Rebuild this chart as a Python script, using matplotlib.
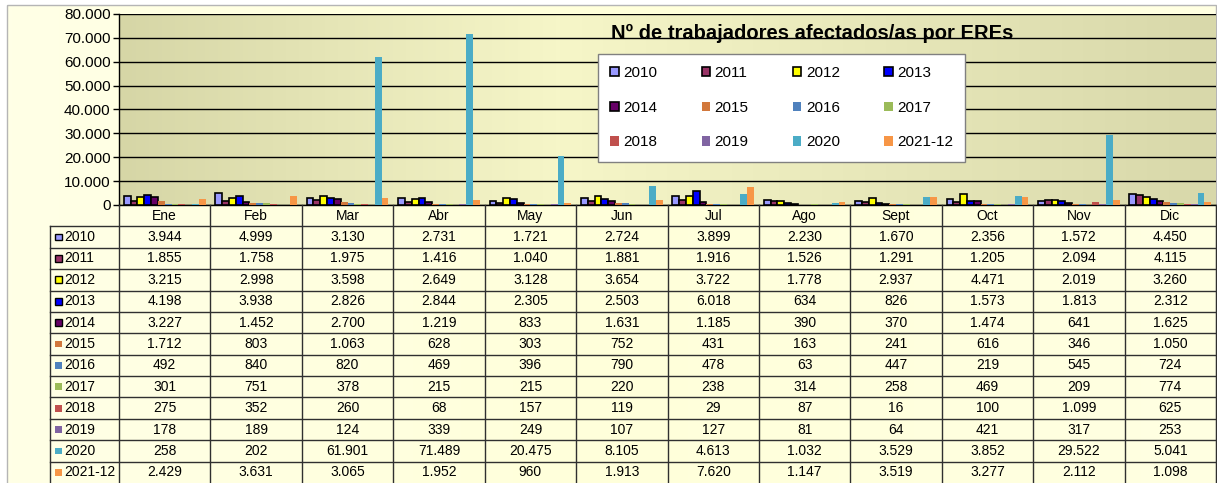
import matplotlib.pyplot as plt
import numpy as np
from matplotlib.patches import Rectangle, Patch
from matplotlib.colors import LinearSegmentedColormap
from matplotlib.ticker import FuncFormatter

plt.rcParams['font.family'] = ['Liberation Sans', 'DejaVu Sans']

# datos
meses = ['Ene', 'Feb', 'Mar', 'Abr', 'May', 'Jun', 'Jul', 'Ago', 'Sept', 'Oct', 'Nov', 'Dic']
anios = ['2010', '2011', '2012', '2013', '2014', '2015', '2016', '2017', '2018', '2019', '2020', '2021-12']
v2010 = [3944, 4999, 3130, 2731, 1721, 2724, 3899, 2230, 1670, 2356, 1572, 4450]
v2011 = [1855, 1758, 1975, 1416, 1040, 1881, 1916, 1526, 1291, 1205, 2094, 4115]
v2012 = [3215, 2998, 3598, 2649, 3128, 3654, 3722, 1778, 2937, 4471, 2019, 3260]
v2013 = [4198, 3938, 2826, 2844, 2305, 2503, 6018, 634, 826, 1573, 1813, 2312]
v2014 = [3227, 1452, 2700, 1219, 833, 1631, 1185, 390, 370, 1474, 641, 1625]
v2015 = [1712, 803, 1063, 628, 303, 752, 431, 163, 241, 616, 346, 1050]
v2016 = [492, 840, 820, 469, 396, 790, 478, 63, 447, 219, 545, 724]
v2017 = [301, 751, 378, 215, 215, 220, 238, 314, 258, 469, 209, 774]
v2018 = [275, 352, 260, 68, 157, 119, 29, 87, 16, 100, 1099, 625]
v2019 = [178, 189, 124, 339, 249, 107, 127, 81, 64, 421, 317, 253]
v2020 = [258, 202, 61901, 71489, 20475, 8105, 4613, 1032, 3529, 3852, 29522, 5041]
v2021 = [2429, 3631, 3065, 1952, 960, 1913, 7620, 1147, 3519, 3277, 2112, 1098]
series = [v2010, v2011, v2012, v2013, v2014, v2015, v2016, v2017, v2018, v2019, v2020, v2021]

colores = ['#9999FF', '#993366', '#FFFF00', '#0000FF', '#660066', '#D2783C',
           '#4F81BD', '#9BBB59', '#C0504D', '#8064A2', '#4BACC6', '#F79646']

titulo = 'Nº de trabajadores afectados/as por EREs'

W, H = 1217, 483
fig = plt.figure(figsize=(12.17, 4.83), dpi=100)


def fx(px):
    return px / W


def fy(py):
    return 1 - py / H


def fmt(v):
    return f"{int(v):,}".replace(",", ".")


# fondo del gráfico
bg = fig.add_axes([0, 0, 1, 1])
bg.set_xlim(0, W)
bg.set_ylim(H, 0)
bg.axis('off')
cm_bg = LinearSegmentedColormap.from_list('bg', ['#FFFFE6', '#FFFFDA', '#FFFFE2'])
bg.imshow(np.linspace(0, 1, 256).reshape(1, -1), cmap=cm_bg, extent=(7, W, H, 5), aspect='auto')
bg.add_patch(Rectangle((7, 5), W - 8, H, fill=False, ec='#b5b5b5', lw=1))

# área de trazado
x0, x1, ytop, ybot = 119, 1216, 14, 205
ax = fig.add_axes([fx(x0), fy(ybot), (x1 - x0) / W, (ybot - ytop) / H])
cm_pa = LinearSegmentedColormap.from_list('pa', [(0, '#D6D6A6'), (0.4, '#F6F6C8'), (1, '#D8D8AA')])
ax.imshow(np.linspace(0, 1, 256).reshape(1, -1), cmap=cm_pa, extent=(-0.5, 11.5, 0, 80000),
          aspect='auto', zorder=0)

x = np.arange(len(meses))
w = 0.0745
for k, (vals, c) in enumerate(zip(series, colores)):
    ax.bar(x + (k - 5.5) * w, vals, w, color=c,
           edgecolor='black' if k < 5 else 'none', linewidth=1.2, zorder=3)

ax.set_xlim(-0.5, 11.5)
ax.set_ylim(0, 80000)
ax.set_yticks(range(0, 80001, 10000))
ax.yaxis.set_major_formatter(FuncFormatter(lambda v, p: fmt(v)))
ax.set_xticks([])
ax.set_axisbelow(True)
ax.grid(axis='y', color='black', lw=1)
ax.tick_params(axis='y', labelsize=11, length=4, width=1, pad=2)
for s in ['top', 'right']:
    ax.spines[s].set_visible(False)
ax.spines['left'].set_linewidth(1)
ax.spines['bottom'].set_linewidth(1)

fig.text(fx(611), fy(33), titulo, fontsize=14.5, fontweight='bold', ha='left', va='center')

# leyenda (por filas)
handles = [Patch(facecolor=c, edgecolor='black' if k < 5 else 'none', lw=1.2)
           for k, c in enumerate(colores)]
orden = [0, 4, 8, 1, 5, 9, 2, 6, 10, 3, 7, 11]
leg = ax.legend([handles[i] for i in orden], [anios[i] for i in orden], ncol=4,
                loc='upper left', bbox_to_anchor=(fx(598), fy(54)), bbox_transform=fig.transFigure,
                fontsize=11, frameon=True, fancybox=False, edgecolor='#808080', facecolor='white',
                framealpha=1, handlelength=0.55, handleheight=0.55, handletextpad=0.3,
                columnspacing=2.9, labelspacing=1.35, borderpad=0.8, borderaxespad=0)
leg.get_frame().set_linewidth(1)
leg.set_zorder(5)

# tabla de datos
tax = fig.add_axes([fx(x0), 0, (x1 - x0) / W, fy(ybot)])
tax.set_xlim(-0.5, 11.5)
tax.set_ylim(13, 0)
tax.axis('off')
unit = (x1 - x0) / 12
xl = -0.5 - (x0 - 50) / unit
lc = '#303030'

for i, m in enumerate(meses):
    tax.text(i, 0.5, m, ha='center', va='center', fontsize=10)
for k, vals in enumerate(series):
    for i, v in enumerate(vals):
        tax.text(i, k + 1.5, fmt(v), ha='center', va='center', fontsize=10)
    tax.add_patch(Rectangle((xl + 5 / unit, k + 1.5 - 0.16), 7 / unit, 0.32, facecolor=colores[k],
                            edgecolor='black' if k < 5 else 'none', lw=1, clip_on=False))
    tax.text(xl + 14 / unit, k + 1.5, anios[k], ha='left', va='center', fontsize=10, clip_on=False)

for i in range(13):
    tax.plot([i - 0.5, i - 0.5], [0, 13], color=lc, lw=1, clip_on=False)
tax.plot([xl, xl], [1, 13], color=lc, lw=1, clip_on=False)
for r in range(1, 13):
    tax.plot([xl, 11.5], [r, r], color=lc, lw=1, clip_on=False)

fig.savefig('out.png', dpi=100)
